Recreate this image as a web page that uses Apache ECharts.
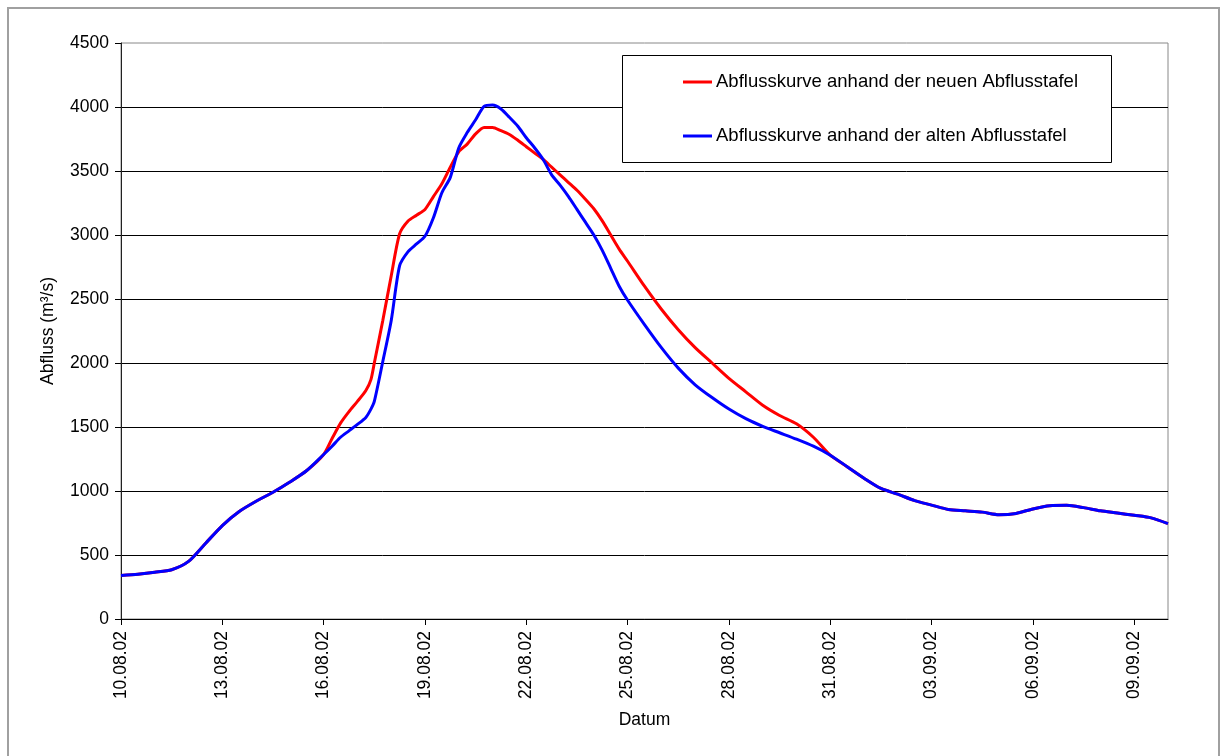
<!DOCTYPE html>
<html>
<head>
<meta charset="utf-8">
<title>Abflusskurven</title>
<script src="https://cdn.jsdelivr.net/npm/echarts@6/dist/echarts.min.js"></script>
<style>
  html, body { margin: 0; padding: 0; background: #fff; }
  #chart { width: 1223px; height: 756px; }
</style>
</head>
<body>
<div id="chart"></div>
<script>
// Tage seit dem 10.08.02
const days = [
  0, 0.5, 1, 1.5, 2, 2.5, 3, 3.5, 4, 4.5, 5, 5.5, 6,
  6.25, 6.5, 6.75, 7, 7.25, 7.4, 7.5, 7.75,
  8, 8.25, 8.5, 8.75, 9, 9.25, 9.5, 9.75,
  10, 10.25, 10.5, 10.75, 11, 11.25, 11.5, 11.75,
  12, 12.25, 12.5, 12.75, 13, 13.25, 13.5, 13.75,
  14, 14.25, 14.5, 14.75,
  15, 15.5, 16, 16.5, 17, 17.5, 18, 18.5, 19, 19.5, 20, 20.5,
  21, 21.5, 22, 22.5, 23, 23.5, 24, 24.5, 25, 25.5, 26, 26.5,
  27, 27.5, 28, 28.5, 29, 29.5, 30, 30.5, 31
];

// Abfluss (m³/s) nach neuer Abflusstafel
const flowNew = [
  340, 350, 365, 385, 450, 590, 730, 840, 920, 990, 1070, 1160, 1285,
  1410, 1530, 1620, 1700, 1785, 1870, 2000, 2330,
  2680, 3010, 3110, 3155, 3200, 3300, 3400, 3530,
  3650, 3710, 3790, 3840, 3840, 3815, 3785, 3740,
  3690, 3640, 3590, 3530, 3470, 3410, 3350, 3280,
  3205, 3110, 3000, 2890,
  2795, 2600, 2420, 2260, 2120, 2000, 1880, 1775, 1670, 1590, 1525, 1420,
  1280, 1190, 1100, 1020, 975, 925, 890, 855, 845, 835, 815, 825,
  860, 885, 888, 870, 845, 828, 810, 790, 745
];

// Abfluss (m³/s) nach alter Abflusstafel
const flowOld = [
  340, 350, 365, 385, 450, 590, 730, 840, 920, 990, 1070, 1160, 1285,
  1350, 1420, 1470, 1520, 1575, 1640, 1700, 2010,
  2330, 2760, 2870, 2930, 2990, 3135, 3330, 3450,
  3680, 3800, 3900, 4005, 4015, 3985, 3920, 3850,
  3760, 3680, 3590, 3470, 3390, 3300, 3200, 3100,
  3000, 2880, 2740, 2600,
  2490, 2300, 2120, 1960, 1830, 1730, 1640, 1565, 1505, 1455, 1405, 1350,
  1280, 1190, 1100, 1020, 975, 925, 890, 855, 845, 835, 815, 825,
  860, 885, 888, 870, 845, 828, 810, 790, 745
];

const tickDays = [0, 3, 6, 9, 12, 15, 18, 21, 24, 27, 30];
const tickLabels = [
  '10.08.02', '13.08.02', '16.08.02', '19.08.02', '22.08.02', '25.08.02',
  '28.08.02', '31.08.02', '03.09.02', '06.09.02', '09.09.02'
];

const seriesNames = [
  'Abflusskurve anhand der neuen Abflusstafel',
  'Abflusskurve anhand der alten Abflusstafel'
];

const FONT = "'Liberation Sans', Arial, sans-serif";
const pairs = vals => days.map((d, i) => [d, vals[i]]);

const chart = echarts.init(document.getElementById('chart'), null, { renderer: 'canvas' });

chart.setOption({
  animation: false,
  backgroundColor: '#fff',
  textStyle: { fontFamily: FONT, color: '#000' },
  graphic: [
    {
      type: 'rect', z: 0,
      shape: { x: 8, y: 8, width: 1211, height: 770 },
      style: { fill: 'none', stroke: '#a0a0a0', lineWidth: 2 }
    },
    {
      type: 'rect', z: 3,
      shape: { x: 622.5, y: 55.5, width: 489, height: 107 },
      style: { fill: '#fff', stroke: '#000', lineWidth: 1 }
    }
  ],
  grid: {
    left: 121, right: 55, top: 43, bottom: 137,
    outerBoundsMode: 'none',
    show: true, borderColor: '#888', borderWidth: 1, backgroundColor: 'transparent'
  },
  legend: {
    orient: 'vertical',
    left: 683, top: 72,
    padding: 0,
    itemGap: 34,
    itemWidth: 29, itemHeight: 3,
    icon: 'rect',
    z: 5,
    textStyle: { fontFamily: FONT, fontSize: 18.5, color: '#000', lineHeight: 20, padding: [0, 0, 0, -1] },
    data: seriesNames
  },
  xAxis: {
    type: 'value',
    min: 0, max: 31, interval: 3,
    axisLine: { show: true, onZero: false, lineStyle: { color: '#000', width: 1 } },
    axisTick: { show: true, length: 6, customValues: tickDays, lineStyle: { color: '#000' } },
    axisLabel: {
      rotate: 90, margin: 12, customValues: tickDays,
      fontFamily: FONT, fontSize: 17.5, color: '#000',
      formatter: v => tickLabels[tickDays.indexOf(v)] || ''
    },
    splitLine: { show: false },
    name: 'Datum', nameLocation: 'middle', nameGap: 92,
    nameTextStyle: { fontFamily: FONT, fontSize: 17.5, color: '#000' }
  },
  yAxis: {
    type: 'value',
    min: 0, max: 4500, interval: 500,
    axisLine: { show: true, lineStyle: { color: '#222', width: 1 } },
    axisTick: { show: true, length: 6, lineStyle: { color: '#000' } },
    axisLabel: {
      margin: 12, fontFamily: FONT, fontSize: 17.5, color: '#000',
      formatter: v => String(v)
    },
    splitLine: { show: true, showMaxLine: false, lineStyle: { color: '#000', width: 1 } },
    name: 'Abfluss (m³/s)', nameLocation: 'middle', nameGap: 64, nameRotate: 90,
    nameTextStyle: { fontFamily: FONT, fontSize: 17.5, color: '#000' }
  },
  series: [
    {
      name: seriesNames[0], type: 'line', data: pairs(flowNew),
      showSymbol: false, symbol: 'none', smooth: 0.25, z: 2,
      color: '#ff0000',
      lineStyle: { color: '#ff0000', width: 3 }
    },
    {
      name: seriesNames[1], type: 'line', data: pairs(flowOld),
      showSymbol: false, symbol: 'none', smooth: 0.25, z: 3,
      color: '#0000ff',
      lineStyle: { color: '#0000ff', width: 3 }
    }
  ]
});
</script>
</body>
</html>
